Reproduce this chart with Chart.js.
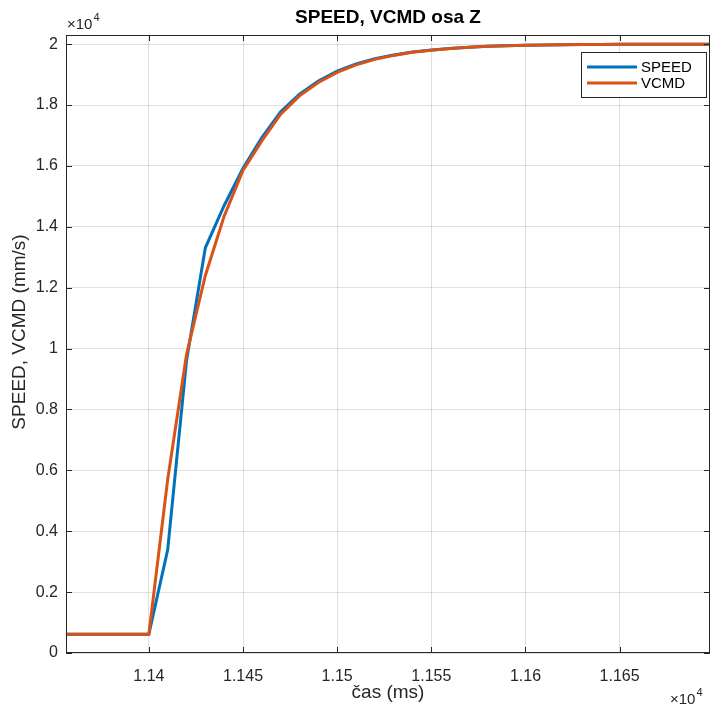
<!DOCTYPE html>
<html>
<head>
<meta charset="utf-8">
<script src="https://cdn.jsdelivr.net/npm/chart.js@4.4.0/dist/chart.umd.min.js"></script>
<style>
  html, body { margin: 0; padding: 0; background: #fff; }
  #wrap { width: 715px; height: 708px; }
</style>
</head>
<body>
<div id="wrap"><canvas id="speedChart" width="715" height="708"></canvas></div>
<script>
// sample times (ms)
const timeMs = [11356, 11400, 11410, 11420, 11430, 11440, 11450, 11460, 11470, 11480, 11490,
  11500, 11510, 11520, 11530, 11540, 11550, 11560, 11570, 11580, 11590, 11600,
  11610, 11620, 11630, 11640, 11650, 11660, 11670, 11680, 11690, 11698];
// measured speed (mm/s)
const speedVals = [620, 620, 3390, 9600, 13310, 14700, 15920, 16930, 17780, 18360, 18790,
  19110, 19350, 19520, 19640, 19740, 19810, 19860, 19900, 19930, 19950, 19965,
  19975, 19983, 19988, 19992, 19995, 19997, 19998, 19999, 20000, 20000];
// commanded speed (mm/s)
const vcmdVals = [620, 620, 5700, 9800, 12400, 14350, 15850, 16820, 17700, 18300, 18740,
  19070, 19320, 19500, 19630, 19730, 19800, 19860, 19900, 19930, 19950, 19965,
  19975, 19983, 19988, 19992, 19995, 19997, 19998, 19999, 20000, 20000];

const xTicks = [11400, 11450, 11500, 11550, 11600, 11650];
const yTicks = [0, 2000, 4000, 6000, 8000, 10000, 12000, 14000, 16000, 18000, 20000];
const seriesNames = ['SPEED', 'VCMD'];
const seriesColors = ['#0072BD', '#D95319'];

const textColor = '#262626';
const fontFamily = '"Liberation Sans", Arial, Helvetica, sans-serif';

function toPoints(xs, ys) {
  return xs.map((x, i) => ({ x: x, y: ys[i] }));
}

// draws the MATLAB-like decorations: box, inward ticks, title, labels, legend
const matlabLook = {
  id: 'matlabLook',
  afterDraw(chart) {
    const c = chart.ctx;
    const a = chart.chartArea;
    const xs = chart.scales.x, ys = chart.scales.y;
    c.save();
    // box
    c.strokeStyle = '#262626';
    c.lineWidth = 1;
    c.strokeRect(a.left + 0.5, a.top + 0.5, a.right - a.left - 1, a.bottom - a.top - 1);
    // inward ticks
    c.beginPath();
    xTicks.forEach(v => {
      const px = Math.round(xs.getPixelForValue(v)) + 0.5;
      c.moveTo(px, a.bottom); c.lineTo(px, a.bottom - 6);
      c.moveTo(px, a.top); c.lineTo(px, a.top + 6);
    });
    yTicks.forEach(v => {
      const py = Math.round(ys.getPixelForValue(v)) + 0.5;
      c.moveTo(a.left, py); c.lineTo(a.left + 6, py);
      c.moveTo(a.right, py); c.lineTo(a.right - 6, py);
    });
    c.stroke();

    // title
    c.fillStyle = '#000';
    c.font = 'bold 19px ' + fontFamily;
    c.textAlign = 'center';
    c.textBaseline = 'middle';
    c.fillText('SPEED, VCMD osa Z', (a.left + a.right) / 2, 18);

    // axis labels
    c.fillStyle = textColor;
    c.font = '19px ' + fontFamily;
    c.fillText('čas (ms)', (a.left + a.right) / 2, 693);
    c.save();
    c.translate(20, 332);
    c.rotate(-Math.PI / 2);
    c.fillText('SPEED, VCMD (mm/s)', 0, 0);
    c.restore();

    // exponent labels
    function expo(x, y) {
      c.textAlign = 'left';
      c.textBaseline = 'alphabetic';
      c.font = '15px ' + fontFamily;
      c.fillText('\u00d710', x, y);
      const w = c.measureText('\u00d710').width;
      c.font = '11px ' + fontFamily;
      c.fillText('4', x + w + 1, y - 8);
    }
    expo(a.left + 1, 29);
    expo(a.right - 40, 704);

    // legend
    const lx = 581, ly = 52, lw = 125, lh = 45;
    c.fillStyle = '#fff';
    c.fillRect(lx, ly, lw, lh);
    c.strokeStyle = '#262626';
    c.lineWidth = 1;
    c.strokeRect(lx + 0.5, ly + 0.5, lw, lh);
    c.font = '15px ' + fontFamily;
    c.textBaseline = 'middle';
    c.textAlign = 'left';
    seriesNames.forEach((name, i) => {
      const yy = ly + 15 + i * 16;
      c.strokeStyle = seriesColors[i];
      c.lineWidth = 3;
      c.beginPath();
      c.moveTo(lx + 6, yy); c.lineTo(lx + 56, yy);
      c.stroke();
      c.fillStyle = '#000';
      c.fillText(name, lx + 60, yy + 1);
    });
    c.restore();
  }
};

const ctx = document.getElementById('speedChart').getContext('2d');

const speedChart = new Chart(ctx, {
  type: 'line',
  data: {
    datasets: [
      {
        label: seriesNames[0],
        data: toPoints(timeMs, speedVals),
        borderColor: seriesColors[0],
        borderWidth: 3,
        pointRadius: 0,
        tension: 0,
        order: 2
      },
      {
        label: seriesNames[1],
        data: toPoints(timeMs, vcmdVals),
        borderColor: seriesColors[1],
        borderWidth: 3,
        pointRadius: 0,
        tension: 0,
        order: 1
      }
    ]
  },
  options: {
    responsive: false,
    animation: false,
    devicePixelRatio: 1,
    layout: { padding: { left: 0, right: 5, top: 35, bottom: 0 } },
    plugins: {
      legend: { display: false },
      title: { display: false },
      tooltip: { enabled: false }
    },
    scales: {
      x: {
        type: 'linear',
        min: 11356,
        max: 11698,
        afterFit: s => { s.height = 55; },
        afterBuildTicks: s => { s.ticks = xTicks.map(v => ({ value: v })); },
        grid: { color: 'rgba(0,0,0,0.12)', drawTicks: false },
        border: { display: false },
        ticks: {
          color: textColor,
          font: { family: fontFamily, size: 16 },
          padding: 14,
          maxRotation: 0,
          autoSkip: false,
          callback: v => String(+(v / 10000).toFixed(4))
        }
      },
      y: {
        type: 'linear',
        min: 0,
        max: 20300,
        afterFit: s => { s.width = 66; },
        afterBuildTicks: s => { s.ticks = yTicks.map(v => ({ value: v })); },
        grid: { color: 'rgba(0,0,0,0.12)', drawTicks: false },
        border: { display: false },
        ticks: {
          color: textColor,
          font: { family: fontFamily, size: 16 },
          padding: 8,
          autoSkip: false,
          callback: v => String(+(v / 10000).toFixed(2))
        }
      }
    }
  },
  plugins: [matlabLook]
});
</script>
</body>
</html>
